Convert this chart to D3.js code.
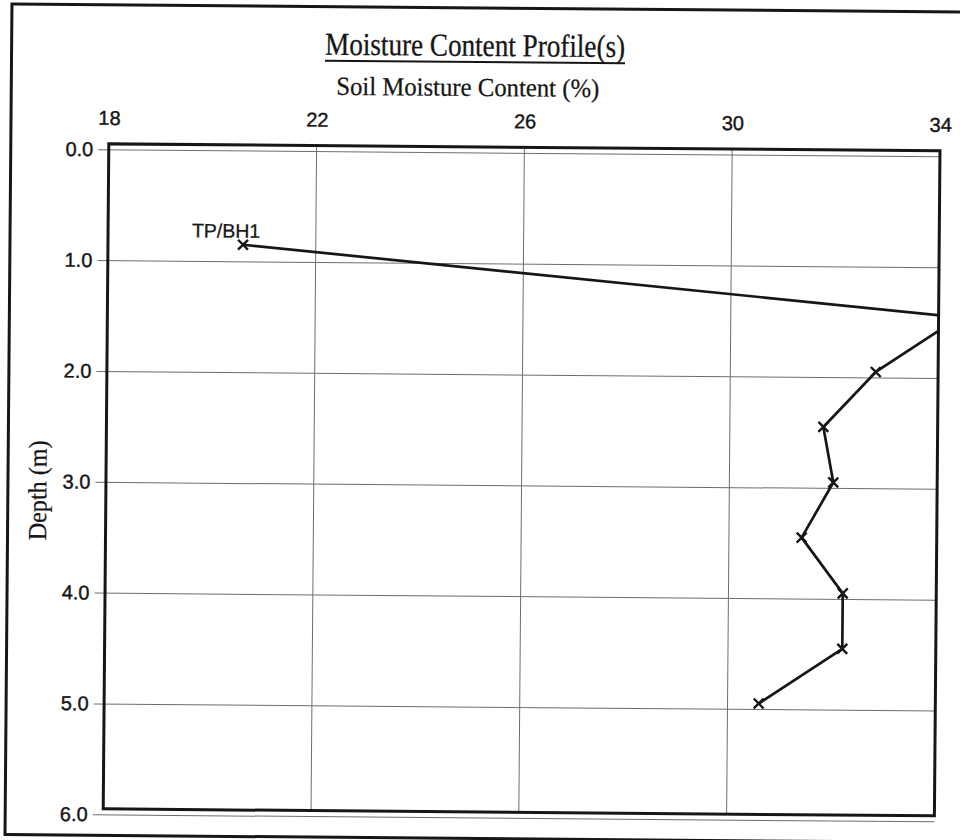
<!DOCTYPE html>
<html>
<head>
<meta charset="utf-8">
<script src="https://cdn.jsdelivr.net/npm/d3@7"></script>
<style>
  body { margin: 0; background: #fff; }
  svg { display: block; }
</style>
</head>
<body>
<script>
// Moisture profile for one trial pit / borehole
const moisture = [20.6, 34.4, 32.8, 31.8, 32.0, 31.4, 32.2, 32.2, 30.6];
const depth    = [0.9, 1.5, 2.0, 2.5, 3.0, 3.5, 4.0, 4.5, 5.0];
const moistureTicks = [18, 22, 26, 30, 34];
const depthTicks = [0, 1, 2, 3, 4, 5, 6];
const seriesName = "TP/BH1";
const titleText = "Moisture Content Profile(s)";
const xTitleText = "Soil Moisture Content (%)";
const yTitleText = "Depth (m)";

const W = 960, H = 840;
const ink = "#161616";
const serif = "'Liberation Serif', 'Times New Roman', serif";
const sans = "'Liberation Sans', Arial, sans-serif";

const svg = d3.select("body").append("svg")
  .attr("width", W).attr("height", H);

svg.append("rect").attr("width", W).attr("height", H).attr("fill", "#fff");

// the sheet sits slightly skewed on the page
const page = svg.append("g").attr("transform", "rotate(0.48,480,420)");

// sheet border
page.append("rect")
  .attr("x", 8.5).attr("y", 8).attr("width", 962).attr("height", 830.5)
  .attr("fill", "none").attr("stroke", ink).attr("stroke-width", 3);

const plot = { left: 106.5, right: 937.7, top: 147, bottom: 812 };
const gridShift = 5.5;

const x = d3.scaleLinear().domain([18, 34]).range([plot.left, plot.right]);
const y = d3.scaleLinear().domain([0, 6]).range([plot.top, plot.bottom]);

// titles (narrow, tall serif lettering)
page.append("text")
  .attr("x", 472).attr("y", 56)
  .attr("text-anchor", "middle")
  .attr("font-family", serif).attr("font-size", 32)
  .attr("textLength", 300).attr("lengthAdjust", "spacingAndGlyphs")
  .attr("fill", ink).attr("stroke", ink).attr("stroke-width", 0.3)
  .text(titleText);
page.append("line")
  .attr("x1", 322).attr("x2", 622)
  .attr("y1", 62).attr("y2", 62)
  .attr("stroke", ink).attr("stroke-width", 2);

page.append("text")
  .attr("x", 465).attr("y", 96)
  .attr("text-anchor", "middle")
  .attr("font-family", serif).attr("font-size", 26)
  .attr("textLength", 263).attr("lengthAdjust", "spacingAndGlyphs")
  .attr("fill", ink).attr("stroke", ink).attr("stroke-width", 0.25)
  .text(xTitleText);

page.append("text")
  .attr("transform", "translate(47,494) rotate(-90)")
  .attr("text-anchor", "middle")
  .attr("font-family", serif).attr("font-size", 26)
  .attr("textLength", 100).attr("lengthAdjust", "spacingAndGlyphs")
  .attr("fill", ink).attr("stroke", ink).attr("stroke-width", 0.25)
  .text(yTitleText);

// vertical grid lines
page.append("g")
  .selectAll("line")
  .data(moistureTicks.slice(1, -1))
  .join("line")
  .attr("x1", d => x(d)).attr("x2", d => x(d))
  .attr("y1", plot.top).attr("y2", plot.bottom)
  .attr("stroke", "#6e6e6e").attr("stroke-width", 1);

// top axis: moisture labels
const xAxis = page.append("g")
  .attr("transform", `translate(0,${plot.top})`)
  .call(d3.axisTop(x).tickValues(moistureTicks).tickSize(0).tickPadding(19));
xAxis.select(".domain").remove();
xAxis.selectAll("text")
  .attr("font-family", sans).attr("font-size", 20)
  .attr("fill", ink).attr("stroke", ink).attr("stroke-width", 0.4);

// left axis: depth ticks with horizontal grid lines
const axisX = 96;
const yAxis = page.append("g")
  .attr("transform", `translate(${axisX},${gridShift})`)
  .call(d3.axisLeft(y).tickValues(depthTicks)
    .tickSize(-(plot.right - axisX)).tickPadding(5)
    .tickFormat(d3.format(".1f")));
yAxis.select(".domain").remove();
yAxis.selectAll("line").attr("stroke", "#6e6e6e").attr("stroke-width", 1);
yAxis.selectAll("text")
  .attr("font-family", sans).attr("font-size", 20)
  .attr("fill", ink).attr("stroke", ink).attr("stroke-width", 0.4);

// plot frame
page.append("rect")
  .attr("x", plot.left).attr("y", plot.top)
  .attr("width", plot.right - plot.left).attr("height", plot.bottom - plot.top)
  .attr("fill", "none").attr("stroke", ink).attr("stroke-width", 3);

// clip the profile to the frame
svg.append("defs").append("clipPath").attr("id", "frame")
  .append("rect")
  .attr("x", plot.left).attr("y", plot.top)
  .attr("width", plot.right - plot.left).attr("height", plot.bottom - plot.top);

const pts = moisture.map((m, i) => [m, depth[i]]);

const series = page.append("g").attr("clip-path", "url(#frame)");

series.append("path")
  .datum(pts)
  .attr("fill", "none")
  .attr("stroke", ink).attr("stroke-width", 2.7)
  .attr("stroke-linejoin", "round")
  .attr("d", d3.line().x(d => x(d[0])).y(d => y(d[1])));

series.selectAll("path.mark")
  .data(pts)
  .join("path")
  .attr("class", "mark")
  .attr("transform", d => `translate(${x(d[0])},${y(d[1])})`)
  .attr("d", d3.symbol(d3.symbolTimes, 66))
  .attr("fill", "none")
  .attr("stroke", ink).attr("stroke-width", 2.4);

// series label beside the first sample
page.append("text")
  .attr("x", x(moisture[0]) - 17).attr("y", y(depth[0]) - 7)
  .attr("text-anchor", "middle")
  .attr("font-family", sans).attr("font-size", 19.5)
  .attr("fill", ink).attr("stroke", ink).attr("stroke-width", 0.3)
  .text(seriesName);
</script>
</body>
</html>
